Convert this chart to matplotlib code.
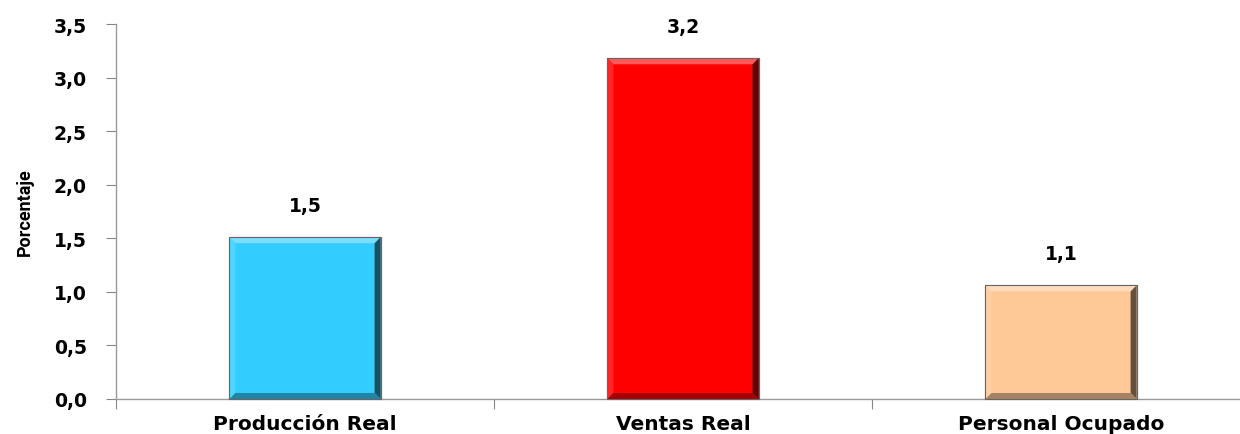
import matplotlib
matplotlib.use("Agg")
import matplotlib.pyplot as plt
from matplotlib.patches import Polygon
from matplotlib.transforms import IdentityTransform
import numpy as np

categories = ["Producción Real", "Ventas Real", "Personal Ocupado"]
values = [1.51, 3.18, 1.06]
labels = ["1,5", "3,2", "1,1"]
yticks = [0.0, 0.5, 1.0, 1.5, 2.0, 2.5, 3.0, 3.5]
ytick_labels = ["0,0", "0,5", "1,0", "1,5", "2,0", "2,5", "3,0", "3,5"]
colors = ["#33CCFF", "#FF0000", "#FFC896"]

W, H, DPI = 1240, 435, 100
fig = plt.figure(figsize=(W / DPI, H / DPI), dpi=DPI)
ax = fig.add_axes([116 / W, 35 / H, (3 * 378) / W, 375 / H])

x = np.arange(len(categories))
bars = ax.bar(x, values, width=0.4, color=colors, edgecolor="#777777", linewidth=0.8, zorder=2)

ax.set_xlim(-0.5, 2.5)
ax.set_ylim(0, 3.5)
ax.set_yticks(yticks)
ax.set_yticklabels(ytick_labels, fontsize=13.5, fontweight="bold", family="DejaVu Sans")
ax.set_xticks([-0.5, 0.5, 1.5, 2.5])
ax.set_xticklabels([])
ax.set_xticks(x, minor=True)
ax.set_xticklabels(categories, minor=True, fontsize=14.5, fontweight="bold", family="DejaVu Sans")
ax.tick_params(axis="x", which="minor", length=0, pad=11)
ax.tick_params(axis="x", which="major", length=7, color="#888888", direction="out")
ax.tick_params(axis="y", length=7, color="#888888", direction="out", pad=14)
for s in ["top", "right"]:
    ax.spines[s].set_visible(False)
for s in ["left", "bottom"]:
    ax.spines[s].set_color("#999999")
    ax.spines[s].set_linewidth(1.0)

ax.set_ylabel("Porcentaje", fontsize=13, fontweight="bold",
              family=["Roboto", "DejaVu Sans"], labelpad=14)

for xi, v, lab in zip(x, values, labels):
    ax.annotate(lab, (xi, v), xytext=(0, 16), textcoords="offset points",
                ha="center", va="bottom", fontsize=13.5, fontweight="bold")

fig.canvas.draw()


def shade(c, f):
    c = np.array(matplotlib.colors.to_rgb(c))
    if f >= 0:
        return tuple(c + (1 - c) * f)
    return tuple(c * (1 + f))


b = 6
for rect, col in zip(bars, colors):
    bb = rect.get_window_extent()
    x0, y0, x1, y1 = bb.x0, bb.y0, bb.x1, bb.y1
    polys = [
        ([(x0, y1), (x1, y1), (x1 - b, y1 - b), (x0 + b, y1 - b)], shade(col, 0.35)),
        ([(x0, y0), (x0, y1), (x0 + b, y1 - b), (x0 + b, y0 + b)], shade(col, 0.15)),
        ([(x1, y0), (x1, y1), (x1 - b, y1 - b), (x1 - b, y0 + b)], shade(col, -0.6)),
        ([(x0, y0), (x1, y0), (x1 - b, y0 + b), (x0 + b, y0 + b)], shade(col, -0.35)),
    ]
    for pts, pc in polys:
        p = Polygon(pts, closed=True, facecolor=pc, edgecolor="none",
                    transform=IdentityTransform(), zorder=3)
        fig.add_artist(p)
    fig.add_artist(Polygon([(x0, y0), (x0, y1), (x1, y1), (x1, y0)], closed=True,
                           facecolor="none", edgecolor="#666666", linewidth=0.8,
                           transform=IdentityTransform(), zorder=4))

fig.savefig("out.png", dpi=DPI)
